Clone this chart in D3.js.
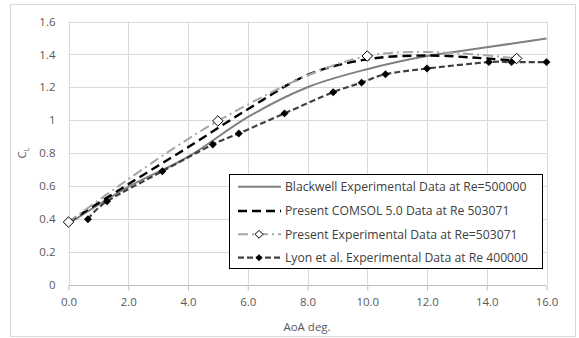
<!DOCTYPE html>
<html><head><meta charset="utf-8">
<script src="https://cdn.jsdelivr.net/npm/d3@7"></script>
<style>body{margin:0;background:#fff}svg{display:block}text{font-family:"Open Sans","Liberation Sans",sans-serif}</style>
</head><body><svg id="c" width="579" height="338"></svg>
<script>
// Data
const blackwellX = [0, 2, 4, 6, 8, 10, 12, 14, 16];
const blackwellY = [0.37, 0.594, 0.776, 1.018, 1.20, 1.31, 1.39, 1.443, 1.497];
const comsolX = [0, 2, 4, 6, 8, 10, 12, 14, 15];
const comsolY = [0.38, 0.61, 0.835, 1.066, 1.275, 1.37, 1.393, 1.375, 1.36];
const presentX = [0, 5, 10, 15];
const presentY = [0.38, 0.995, 1.39, 1.375];
const lyonX = [0.65, 1.29, 3.14, 4.83, 5.70, 7.23, 8.86, 9.81, 10.61, 12.0, 14.07, 14.83, 16.0];
const lyonY = [0.397, 0.506, 0.689, 0.852, 0.919, 1.041, 1.170, 1.228, 1.279, 1.314, 1.353, 1.353, 1.353];
const xTicks = [0, 2, 4, 6, 8, 10, 12, 14, 16];
const yTicks = [0, 0.2, 0.4, 0.6, 0.8, 1, 1.2, 1.4, 1.6];
const legendLabels = ["Blackwell Experimental Data at Re=500000", "Present COMSOL 5.0 Data at Re 503071", "Present Experimental Data at Re=503071", "Lyon et al. Experimental Data at Re 400000"];

const svg = d3.select("#c");
svg.append("rect").attr("x",10.5).attr("y",4.5).attr("width",565).attr("height",332).attr("fill","#fff").attr("stroke","#d9d9d9");

const x = d3.scaleLinear().domain([0,16]).range([68.5,546.5]);
const y = d3.scaleLinear().domain([0,1.6]).range([284.5,21.5]);

// grid
svg.append("g").selectAll("line").data(yTicks.slice(1)).join("line")
  .attr("x1",x(0)).attr("x2",x(16)).attr("y1",d=>Math.round(y(d))+0.5).attr("y2",d=>Math.round(y(d))+0.5)
  .attr("stroke","#d9d9d9");
svg.append("g").selectAll("line").data(xTicks).join("line")
  .attr("x1",d=>Math.round(x(d))+0.5).attr("x2",d=>Math.round(x(d))+0.5).attr("y1",y(1.6)).attr("y2",y(0))
  .attr("stroke","#d9d9d9");

// x axis
const xAxis = d3.axisBottom(x).tickValues(xTicks).tickFormat(d3.format(".1f")).tickSize(5).tickPadding(7);
const gx = svg.append("g").attr("transform",`translate(0,${Math.round(y(0))+0.5})`).call(xAxis);
gx.select(".domain").attr("stroke","#bfbfbf").attr("d",`M${x(0)},0H${x(16)}`);
gx.selectAll(".tick line").attr("stroke","#bfbfbf");
gx.selectAll(".tick text").attr("fill","#595959").style("font-size","11.5px").style("font-family","Open Sans");

// y axis labels
const yAxis = d3.axisLeft(y).tickValues(yTicks).tickFormat(d=>d3.format("")(+d.toFixed(1))).tickSize(0).tickPadding(13);
const gy = svg.append("g").attr("transform",`translate(${x(0)},0)`).call(yAxis);
gy.select(".domain").remove();
gy.selectAll(".tick text").attr("fill","#595959").style("font-size","11.5px").style("font-family","Open Sans");

// axis titles
svg.append("text").attr("x",307).attr("y",331).attr("text-anchor","middle").attr("fill","#595959").style("font-size","11.5px").text("AoA deg.");
const yt = svg.append("text").attr("transform","translate(26,153) rotate(-90)").attr("text-anchor","middle").attr("fill","#595959").style("font-size","11.5px");
yt.append("tspan").text("C");
yt.append("tspan").attr("dy",3).style("font-size","7px").text("L");

const line = d3.line().x(d=>x(d[0])).y(d=>y(d[1])).curve(d3.curveCardinal.tension(0));
const zip = (a,b)=>a.map((v,i)=>[v,b[i]]);
const bw = zip(blackwellX,blackwellY), cm = zip(comsolX,comsolY), pr = zip(presentX,presentY), ly = zip(lyonX,lyonY);

const styles = [
  {stroke:"#808080", w:2, dash:null},
  {stroke:"#000", w:2.4, dash:"9,5"},
  {stroke:"#a6a6a6", w:2, dash:"10,4,2,4"},
  {stroke:"#404040", w:2.2, dash:"6,3"}
];
const g = svg.append("g");
[bw,cm,pr,ly].forEach((data,i)=>{
  const s = styles[i];
  g.append("path").datum(data).attr("d",line).attr("fill","none").attr("stroke",s.stroke).attr("stroke-width",s.w).attr("stroke-dasharray",s.dash);
});
g.selectAll(".ly").data(ly).join("path").attr("d",d3.symbol().type(d3.symbolDiamond2).size(40)).attr("transform",d=>`translate(${x(d[0])},${y(d[1])})`).attr("fill","#000");
g.selectAll(".pr").data(pr).join("path").attr("d",d3.symbol().type(d3.symbolDiamond2).size(70)).attr("transform",d=>`translate(${x(d[0])},${y(d[1])})`).attr("fill","#fff").attr("stroke","#000").attr("stroke-width",1);

// legend
const lg = svg.append("g");
lg.append("rect").attr("x",229.5).attr("y",174.5).attr("width",313).attr("height",94).attr("fill","#fff").attr("stroke","#000");
const ly0 = [186.7, 211, 234.3, 257.7];
legendLabels.forEach((t,i)=>{
  const s = styles[i], yy = ly0[i];
  lg.append("line").attr("x1",238).attr("x2",281).attr("y1",yy).attr("y2",yy).attr("stroke",s.stroke).attr("stroke-width",s.w).attr("stroke-dasharray",s.dash);
  if(i===2) lg.append("path").attr("d",d3.symbol().type(d3.symbolDiamond2).size(40)).attr("transform",`translate(259,${yy})`).attr("fill","#fff").attr("stroke","#000");
  if(i===3) lg.append("path").attr("d",d3.symbol().type(d3.symbolDiamond2).size(32)).attr("transform",`translate(259,${yy})`).attr("fill","#000");
  lg.append("text").attr("x",285).attr("y",yy+4.2).attr("fill","#404040").style("font-size","12.2px").text(t);
});
</script></body></html>
